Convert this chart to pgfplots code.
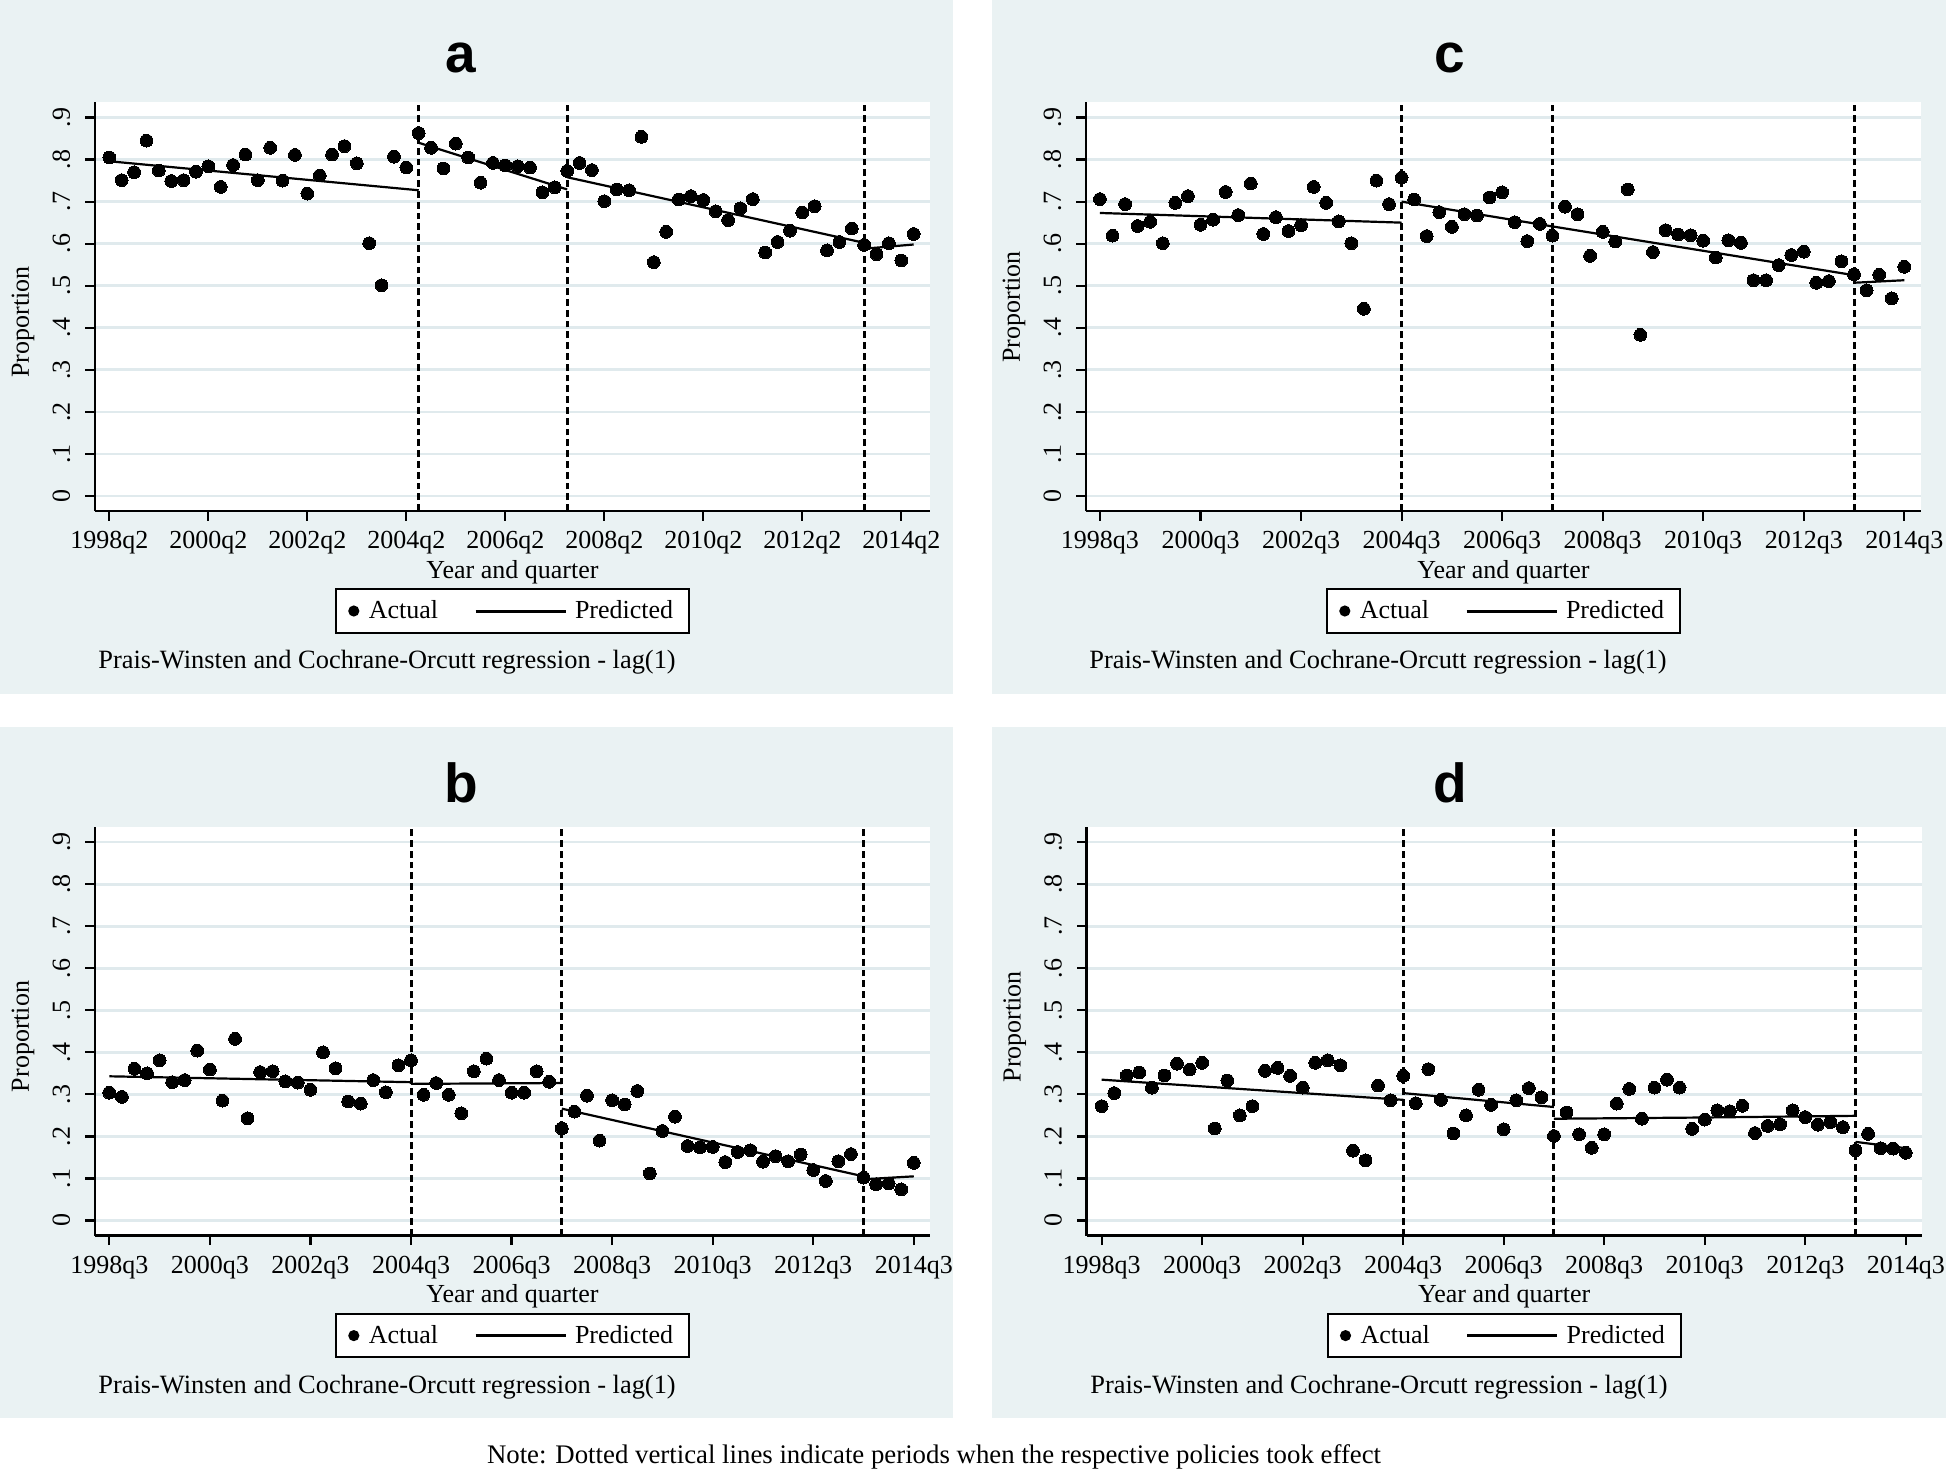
\documentclass[border=0pt]{standalone}
\usepackage{fontspec}
\setmainfont{Liberation Serif}
\newfontfamily\titlefont{Liberation Sans}
\usepackage{pgfplots}
\pgfplotsset{compat=1.18}
\usepackage{pgfplotstable}

\definecolor{panelbg}{RGB}{234,242,243}
\definecolor{gridc}{RGB}{224,234,237}
\newcommand{\fs}{\fontsize{13}{15.6}\selectfont}

% Panel a (x = quarters since 1998q2)
\pgfplotstableread{
q v
0 0.805
1 0.751
2 0.770
3 0.845
4 0.774
5 0.749
6 0.751
7 0.771
8 0.784
9 0.735
10 0.787
11 0.812
12 0.751
13 0.828
14 0.750
15 0.811
16 0.719
17 0.762
18 0.812
19 0.832
20 0.791
21 0.601
22 0.501
23 0.807
24 0.781
25 0.863
26 0.828
27 0.779
28 0.838
29 0.805
30 0.745
31 0.792
32 0.786
33 0.784
34 0.781
35 0.722
36 0.734
37 0.773
38 0.792
39 0.775
40 0.701
41 0.729
42 0.727
43 0.854
44 0.556
45 0.628
46 0.705
47 0.713
48 0.704
49 0.677
50 0.656
51 0.684
52 0.706
53 0.579
54 0.604
55 0.631
56 0.674
57 0.689
58 0.584
59 0.604
60 0.636
61 0.597
62 0.575
63 0.601
64 0.560
65 0.623
}\dataA

% Panel c (x = quarters since 1998q3)
\pgfplotstableread{
q v
0 0.706
1 0.619
2 0.694
3 0.642
4 0.652
5 0.601
6 0.697
7 0.713
8 0.645
9 0.657
10 0.723
11 0.668
12 0.743
13 0.623
14 0.663
15 0.630
16 0.644
17 0.735
18 0.697
19 0.653
20 0.601
21 0.445
22 0.750
23 0.694
24 0.757
25 0.705
26 0.618
27 0.675
28 0.640
29 0.670
30 0.667
31 0.710
32 0.722
33 0.651
34 0.606
35 0.647
36 0.619
37 0.688
38 0.670
39 0.571
40 0.628
41 0.605
42 0.729
43 0.383
44 0.580
45 0.632
46 0.622
47 0.620
48 0.607
49 0.567
50 0.608
51 0.602
52 0.513
53 0.513
54 0.549
55 0.573
56 0.581
57 0.507
58 0.511
59 0.558
60 0.527
61 0.489
62 0.526
63 0.470
64 0.545
}\dataC

% Panel b
\pgfplotstableread{
q v
0 0.304
1 0.294
2 0.361
3 0.350
4 0.381
5 0.329
6 0.334
7 0.404
8 0.359
9 0.285
10 0.432
11 0.243
12 0.353
13 0.355
14 0.331
15 0.328
16 0.311
17 0.400
18 0.362
19 0.283
20 0.278
21 0.334
22 0.305
23 0.369
24 0.381
25 0.299
26 0.327
27 0.299
28 0.255
29 0.355
30 0.385
31 0.334
32 0.304
33 0.304
34 0.355
35 0.330
36 0.219
37 0.259
38 0.297
39 0.190
40 0.286
41 0.276
42 0.308
43 0.112
44 0.213
45 0.247
46 0.177
47 0.174
48 0.175
49 0.139
50 0.163
51 0.167
52 0.140
53 0.153
54 0.141
55 0.157
56 0.120
57 0.094
58 0.141
59 0.158
60 0.102
61 0.086
62 0.088
63 0.074
64 0.137
}\dataB

% Panel d
\pgfplotstableread{
q v
0 0.272
1 0.303
2 0.345
3 0.352
4 0.316
5 0.345
6 0.373
7 0.359
8 0.375
9 0.219
10 0.333
11 0.250
12 0.272
13 0.356
14 0.363
15 0.344
16 0.316
17 0.375
18 0.381
19 0.369
20 0.166
21 0.143
22 0.321
23 0.286
24 0.344
25 0.279
26 0.360
27 0.287
28 0.207
29 0.250
30 0.311
31 0.275
32 0.217
33 0.286
34 0.315
35 0.293
36 0.201
37 0.257
38 0.205
39 0.173
40 0.205
41 0.278
42 0.313
43 0.242
44 0.316
45 0.335
46 0.316
47 0.218
48 0.240
49 0.262
50 0.260
51 0.273
52 0.208
53 0.225
54 0.229
55 0.262
56 0.246
57 0.228
58 0.234
59 0.222
60 0.167
61 0.206
62 0.172
63 0.171
64 0.161
}\dataD

\pgfplotsset{
  stata/.style={
    scale only axis, width=417.5pt, height=204.5pt,
    ymin=-0.036, ymax=0.937,
    axis x line*=bottom, axis y line*=left,
    axis line style={line width=1.3pt, -},
    tick align=outside,
    major tick length=4.8pt,
    tick style={line width=1.1pt, black},
    xtick={0,8,16,24,32,40,48,56,64},
    ytick={0,0.1,0.2,0.3,0.4,0.5,0.6,0.7,0.8,0.9},
    yticklabels={0,.1,.2,.3,.4,.5,.6,.7,.8,.9},
    tick label style={font=\fs, inner sep=0pt},
    yticklabel style={rotate=90, anchor=south},
    xticklabel style={anchor=north},
    yticklabel shift=7.4pt,
    xticklabel shift=5.2pt,
    ymajorgrids,
    major grid style={line width=1.3pt, gridc},
    axis background/.style={fill=white},
    xlabel={Year and quarter}, ylabel={Proportion},
    label style={font=\fs},
    xlabel style={at={(axis description cs:0.5,-0.149)}, anchor=center},
    legend columns=2,
    legend cell align=left,
    legend style={at={(axis description cs:0.5,-0.2445)}, anchor=center,
      draw=black, line width=1pt, fill=white, font=\fs,
      inner xsep=6pt, inner ysep=3.5pt,
      /tikz/every even column/.append style={column sep=16pt}},
  },
  actual/.style={only marks, mark=*, mark size=3.2pt,
    mark options={fill=black, draw=black, line width=0pt}, forget plot},
  pred/.style={black, line width=1.1pt, no marks, forget plot},
  policy/.style={black, line width=1.5pt, dash pattern=on 3.4pt off 2pt, no marks, forget plot},
}

\newcommand{\legendimages}{%
  \addlegendimage{legend image code/.code={\path[draw=none,fill=none] (0pt,-3.2pt) rectangle (8.5pt,3.2pt); \fill[black,draw=none] (3pt,0pt) circle (2.8pt);}}
  \addlegendentry{Actual}
  \addlegendimage{legend image code/.code={\draw[black, line width=1.5pt] (0pt,0pt) -- (45pt,0pt); \path[draw=none] (47.7pt,0pt);}}
  \addlegendentry{Predicted}
}

\begin{document}
\begin{tikzpicture}
\useasboundingbox (0pt,0pt) rectangle (973pt,-735.5pt);
\fill[white] (0pt,0pt) rectangle (973pt,-735.5pt);
\begin{scope}[x=0.5pt,y=-0.5pt]
  \fill[panelbg] (0,0) rectangle (953,694);
  \fill[panelbg] (992,0) rectangle (1946,694);
  \fill[panelbg] (0,727) rectangle (953,1418);
  \fill[panelbg] (992,727) rectangle (1946,1418);
\end{scope}

% ---------- panel a ----------
\begin{axis}[stata, at={(47.5pt,-255.5pt)}, anchor=south west,
  xmin=-1.16, xmax=66.32,
  xticklabels={1998q2,2000q2,2002q2,2004q2,2006q2,2008q2,2010q2,2012q2,2014q2},
  ylabel style={at={(axis description cs:-0.0862,0.462)}, anchor=center}]
  \legendimages
  \addplot[policy] coordinates {(25,-0.036) (25,0.937)};
  \addplot[policy] coordinates {(37,-0.036) (37,0.937)};
  \addplot[policy] coordinates {(61,-0.036) (61,0.937)};
  \addplot[pred] coordinates {(0,0.796) (25,0.727)};
  \addplot[pred] coordinates {(25,0.840) (37,0.729)};
  \addplot[pred] coordinates {(37,0.758) (61,0.602)};
  \addplot[pred] coordinates {(61,0.588) (65,0.598)};
  \addplot[actual] table[x=q, y=v] {\dataA};
\end{axis}

% ---------- panel c ----------
\begin{axis}[stata, at={(543pt,-255.5pt)}, anchor=south west,
  xmin=-1.11, xmax=65.33,
  xticklabels={1998q3,2000q3,2002q3,2004q3,2006q3,2008q3,2010q3,2012q3,2014q3},
  ylabel style={at={(axis description cs:-0.0862,0.499)}, anchor=center}]
  \legendimages
  \addplot[policy] coordinates {(24,-0.036) (24,0.937)};
  \addplot[policy] coordinates {(36,-0.036) (36,0.937)};
  \addplot[policy] coordinates {(60,-0.036) (60,0.937)};
  \addplot[pred] coordinates {(0,0.673) (24,0.650)};
  \addplot[pred] coordinates {(24,0.700) (36,0.641)};
  \addplot[pred] coordinates {(36,0.641) (60,0.525)};
  \addplot[pred] coordinates {(60,0.507) (64,0.513)};
  \addplot[actual] table[x=q, y=v] {\dataC};
\end{axis}

% ---------- panel b ----------
\begin{axis}[stata, at={(47.5pt,-617.8pt)}, anchor=south west,
  xmin=-1.14, xmax=65.29,
  xticklabels={1998q3,2000q3,2002q3,2004q3,2006q3,2008q3,2010q3,2012q3,2014q3},
  ylabel style={at={(axis description cs:-0.0862,0.487)}, anchor=center}]
  \legendimages
  \addplot[policy] coordinates {(24,-0.036) (24,0.937)};
  \addplot[policy] coordinates {(36,-0.036) (36,0.937)};
  \addplot[policy] coordinates {(60,-0.036) (60,0.937)};
  \addplot[pred] coordinates {(0,0.343) (24,0.329)};
  \addplot[pred] coordinates {(24,0.325) (36,0.327)};
  \addplot[pred] coordinates {(36,0.266) (60,0.105)};
  \addplot[pred] coordinates {(60,0.098) (64,0.105)};
  \addplot[actual] table[x=q, y=v] {\dataB};
\end{axis}

% ---------- panel d ----------
\begin{axis}[stata, at={(543.35pt,-617.8pt)}, anchor=south west,
  xmin=-1.19, xmax=65.27,
  xticklabels={1998q3,2000q3,2002q3,2004q3,2006q3,2008q3,2010q3,2012q3,2014q3},
  ylabel style={at={(axis description cs:-0.0862,0.511)}, anchor=center}]
  \legendimages
  \addplot[policy] coordinates {(24,-0.036) (24,0.937)};
  \addplot[policy] coordinates {(36,-0.036) (36,0.937)};
  \addplot[policy] coordinates {(60,-0.036) (60,0.937)};
  \addplot[pred] coordinates {(0,0.335) (24,0.287)};
  \addplot[pred] coordinates {(24,0.303) (36,0.270)};
  \addplot[pred] coordinates {(36,0.242) (48,0.245) (60,0.249)};
  \addplot[pred] coordinates {(60,0.187) (64,0.172)};
  \addplot[actual] table[x=q, y=v] {\dataD};
\end{axis}

\begin{scope}[x=0.5pt,y=-0.5pt]
  \node[font=\titlefont\bfseries\fontsize{27.5}{30}\selectfont] at (461,58) {a};
  \node[font=\titlefont\bfseries\fontsize{27.5}{30}\selectfont] at (1450,58) {c};
  \node[font=\titlefont\bfseries\fontsize{27.5}{30}\selectfont] at (461,783) {b};
  \node[font=\titlefont\bfseries\fontsize{27.5}{30}\selectfont] at (1450,783) {d};
  \node[font=\fontsize{13.2}{15.6}\selectfont, anchor=west, inner sep=0pt] at (98,661.7) {Prais-Winsten and Cochrane-Orcutt regression - lag(1)};
  \node[font=\fontsize{13.2}{15.6}\selectfont, anchor=west, inner sep=0pt] at (1089,661.7) {Prais-Winsten and Cochrane-Orcutt regression - lag(1)};
  \node[font=\fontsize{13.2}{15.6}\selectfont, anchor=west, inner sep=0pt] at (98,1386.7) {Prais-Winsten and Cochrane-Orcutt regression - lag(1)};
  \node[font=\fontsize{13.2}{15.6}\selectfont, anchor=west, inner sep=0pt] at (1090,1386.7) {Prais-Winsten and Cochrane-Orcutt regression - lag(1)};
  \node[font=\fontsize{13.4}{15}\selectfont, inner sep=0pt] at (934,1457) {Note: Dotted vertical lines indicate periods when the respective policies took effect};
\end{scope}
\end{tikzpicture}
\end{document}
